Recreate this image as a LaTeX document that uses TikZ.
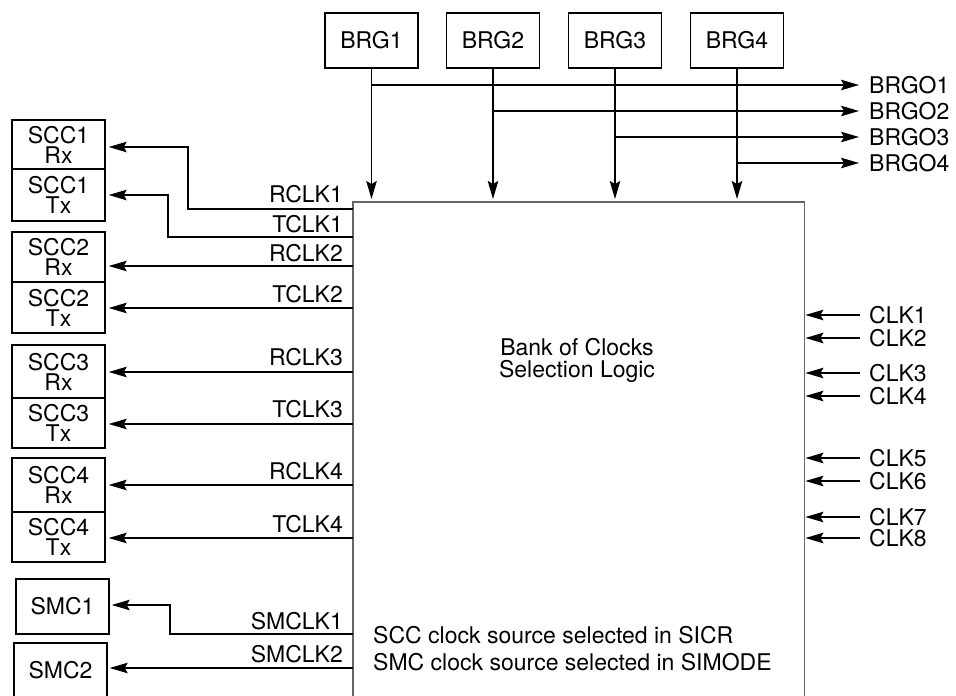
\documentclass[tikz,border=0pt]{standalone}
\usepackage{fontspec}
\setmainfont{TeX Gyre Heros}
\usetikzlibrary{arrows.meta}
\begin{document}
\begin{tikzpicture}[x=1pt,y=-1pt,
  every node/.style={font=\fontsize{23}{20}\selectfont, inner sep=0pt},
  blk/.style={draw=black, line width=1.4pt, minimum width=93pt},
  lbl/.style={anchor=base east},
  rlbl/.style={anchor=base west},
  arr/.style={line width=1.4pt, -{Stealth[length=18pt,width=10.5pt,inset=3pt]}},
  wire/.style={line width=1.4pt}
]
\useasboundingbox (0,0) rectangle (956,696);

% main block
\node (bank) [minimum width=451pt, minimum height=494pt, anchor=north west] at (353,202) {};
\draw[draw=black!60, line width=1.4pt] (bank.south west) |- (bank.north east) -- (bank.south east);
\node (banktxt) [align=center, font=\fontsize{23}{22}\selectfont] at (577,360) {Bank of Clocks\\Selection Logic};
\node (sicr) [rlbl] at (373,643) {SCC clock source selected in SICR};
\node (simode) [rlbl] at (373,670) {SMC clock source selected in SIMODE};

% BRG boxes
\node (brg1) [blk, minimum height=55pt] at (371.5,40.5) {BRG1};
\node (brg2) [blk, minimum height=55pt] at (493,40.5) {BRG2};
\node (brg3) [blk, minimum height=55pt] at (615,40.5) {BRG3};
\node (brg4) [blk, minimum height=55pt] at (737,40.5) {BRG4};
\foreach \b in {brg1,brg2,brg3,brg4}{
  \draw[arr, shorten >=3pt] (\b.south) -- (\b.south |- bank.north);
}
% BRGO outputs
\node (o1) [rlbl] at (869,93) {BRGO1};
\node (o2) [rlbl] at (869,119) {BRGO2};
\node (o3) [rlbl] at (869,145) {BRGO3};
\node (o4) [rlbl] at (869,171) {BRGO4};
\coordinate (t1) at (859,85);
\coordinate (t2) at (859,111);
\coordinate (t3) at (859,137);
\coordinate (t4) at (859,163);
\draw[arr] (brg1.south |- t1) -- (t1);
\draw[arr] (brg2.south |- t2) -- (t2);
\draw[arr] (brg3.south |- t3) -- (t3);
\draw[arr] (brg4.south |- t4) -- (t4);

% SCC boxes
\node (s1r) [blk, minimum height=49pt, align=center] at (58.5,144.5) {SCC1\\Rx};
\node (s1t) [blk, minimum height=52pt, align=center] at (58.5,195) {SCC1\\Tx};
\node (s2r) [blk, minimum height=50pt, align=center] at (58.5,257) {SCC2\\Rx};
\node (s2t) [blk, minimum height=51pt, align=center] at (58.5,307.5) {SCC2\\Tx};
\node (s3r) [blk, minimum height=53pt, align=center] at (58.5,371.5) {SCC3\\Rx};
\node (s3t) [blk, minimum height=50pt, align=center] at (58.5,423) {SCC3\\Tx};
\node (s4r) [blk, minimum height=54pt, align=center] at (58.5,485) {SCC4\\Rx};
\node (s4t) [blk, minimum height=50pt, align=center] at (58.5,537) {SCC4\\Tx};
\node (m1) [blk, minimum height=55pt] at (62.5,606.5) {SMC1};
\node (m2) [blk, minimum height=55pt] at (60.5,670.5) {SMC2};

% left labels
\node (l1) [lbl] at (343,202) {RCLK1};
\node (l2) [lbl] at (343,232) {TCLK1};
\node (l3) [lbl] at (343,261) {RCLK2};
\node (l4) [lbl] at (343,302) {TCLK2};
\node (l5) [lbl] at (343,365) {RCLK3};
\node (l6) [lbl] at (343,417) {TCLK3};
\node (l7) [lbl] at (343,479) {RCLK4};
\node (l8) [lbl] at (343,532) {TCLK4};
\node (l9) [lbl] at (343,629) {SMCLK1};
\node (l10) [lbl] at (343,662) {SMCLK2};

% left connectors
\draw[arr, shorten >=3pt] (bank.west |- 0,209) -| (188,147) -- (s1r.east |- 0,147);
\draw[arr, shorten >=3pt] (bank.west |- 0,237) -| (168,195) -- (s1t.east |- 0,195);
\draw[arr, shorten >=3pt] (bank.west |- 0,266) -- (s2r.east |- 0,266);
\draw[arr, shorten >=3pt] (bank.west |- 0,308) -- (s2t.east |- 0,308);
\draw[arr, shorten >=3pt] (bank.west |- 0,372) -- (s3r.east |- 0,372);
\draw[arr, shorten >=3pt] (bank.west |- 0,424) -- (s3t.east |- 0,424);
\draw[arr, shorten >=3pt] (bank.west |- 0,485) -- (s4r.east |- 0,485);
\draw[arr, shorten >=3pt] (bank.west |- 0,538) -- (s4t.east |- 0,538);
\draw[arr, shorten >=2pt] (bank.west |- 0,634) -| (170,605) -- (m1.east |- 0,605);
\draw[arr, shorten >=2pt] (bank.west |- 0,668) -- (m2.east |- 0,668);

% right clock inputs
\foreach \i/\y in {1/315,2/338,3/373,4/396,5/458,6/481,7/517,8/538}{
  \node (clk\i) [rlbl] at (869,\y+8) {CLK\i};
  \coordinate (c\i) at (860,\y);
  \draw[arr, shorten >=1pt] (c\i) -- (bank.east |- c\i);
}
\end{tikzpicture}
\end{document}
